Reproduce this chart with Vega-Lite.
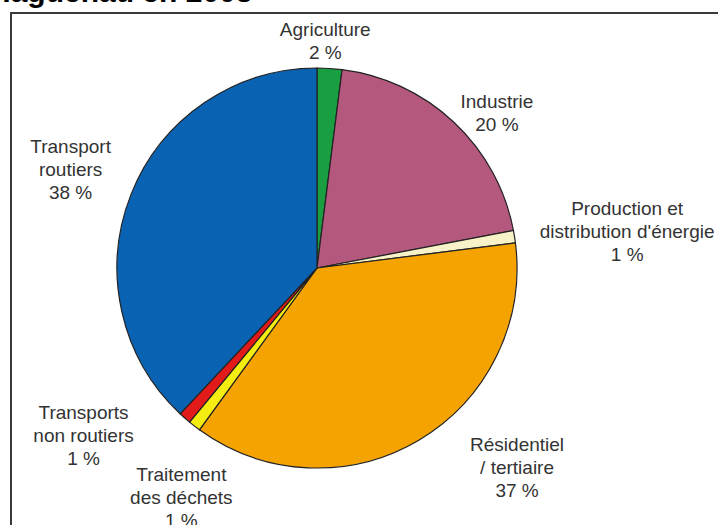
{
  "$schema": "https://vega.github.io/schema/vega-lite/v6.json",
  "width": 612,
  "height": 510,
  "autosize": {"type": "none"},
  "padding": {"left": 11, "top": 13, "right": 95, "bottom": 2},
  "background": "white",
  "config": {"view": {"stroke": null}},
  "title": {
    "text": "Haguenau en 2003",
    "anchor": "start",
    "frame": "group",
    "baseline": "alphabetic",
    "dx": -22,
    "dy": 20,
    "offset": 0,
    "fontSize": 30,
    "font": "Liberation Sans",
    "fontWeight": "bold",
    "color": "#000000"
  },
  "data": {
    "values": [
      {"cat": "Agriculture", "label": "Agriculture\n2 %", "pct": 2, "ord": 1},
      {"cat": "Industrie", "label": "Industrie\n20 %", "pct": 20, "ord": 2},
      {"cat": "Production et distribution d'énergie", "label": "Production et\ndistribution d'énergie\n1 %", "pct": 1, "ord": 3},
      {"cat": "Résidentiel / tertiaire", "label": "Résidentiel\n/ tertiaire\n37 %", "pct": 37, "ord": 4},
      {"cat": "Traitement des déchets", "label": "Traitement\ndes déchets\n1 %", "pct": 1, "ord": 5},
      {"cat": "Transports non routiers", "label": "Transports\nnon routiers\n1 %", "pct": 1, "ord": 6},
      {"cat": "Transport routiers", "label": "Transport\nroutiers\n38 %", "pct": 38, "ord": 7}
    ]
  },
  "layer": [
    {
      "data": {"values": [{"frame": 1}]},
      "mark": {"type": "rect", "filled": false, "stroke": "#3a3a3a", "strokeWidth": 2, "clip": false},
      "encoding": {
        "x": {"value": 0},
        "y": {"value": 0},
        "x2": {"value": 1000},
        "y2": {"value": 1000}
      }
    },
    {
      "mark": {"type": "arc", "outerRadius": 200, "stroke": "#222222", "strokeWidth": 1.2},
      "encoding": {
        "theta": {"field": "pct", "type": "quantitative", "stack": true},
        "order": {"field": "ord", "type": "quantitative"},
        "color": {
          "field": "cat",
          "type": "nominal",
          "legend": null,
          "scale": {
            "domain": ["Agriculture", "Industrie", "Production et distribution d'énergie", "Résidentiel / tertiaire", "Traitement des déchets", "Transports non routiers", "Transport routiers"],
            "range": ["#1a9e42", "#b5587e", "#f7f2c8", "#f5a300", "#f5ec12", "#e31a1a", "#0a62b3"]
          }
        }
      }
    },
    {
      "mark": {
        "type": "text",
        "lineBreak": "\n",
        "align": "center",
        "baseline": "middle",
        "font": "Liberation Sans",
        "fontSize": 19,
        "lineHeight": 23,
        "fill": "#333333",
        "radius": {"expr": "[227, 238, 312, 283, 267, 288, 265][datum.ord - 1]"},
        "dx": {"expr": "[-6, 17, 2, 56, 28, -43, 0][datum.ord - 1]"},
        "dy": {"expr": "[-11, 7, -10, -67, -4, -71, -23][datum.ord - 1]"}
      },
      "encoding": {
        "theta": {"field": "pct", "type": "quantitative", "stack": true},
        "order": {"field": "ord", "type": "quantitative"},
        "text": {"field": "label", "type": "nominal"}
      }
    }
  ]
}
